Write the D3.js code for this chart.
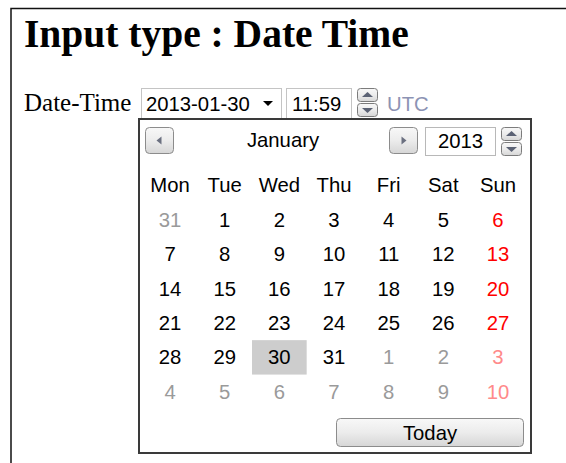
<!DOCTYPE html>
<html>
<head>
<meta charset="utf-8">
<script src="https://cdn.jsdelivr.net/npm/d3@7"></script>
<style>
  body { margin: 0; background: #fff; }
  svg { display: block; }
</style>
</head>
<body>
<div id="cover"></div>
<script>
// values
var titleText = "Input type : Date Time";
var labelText = "Date-Time";
var dateValue = "2013-01-30";
var timeValue = "11:59";
var zoneText = "UTC";
var monthName = "January";
var yearValue = "2013";
var weekdays = ["Mon", "Tue", "Wed", "Thu", "Fri", "Sat", "Sun"];
// six weeks of the grid, row by row
var dayNumbers = [
  [31, 1, 2, 3, 4, 5, 6],
  [7, 8, 9, 10, 11, 12, 13],
  [14, 15, 16, 17, 18, 19, 20],
  [21, 22, 23, 24, 25, 26, 27],
  [28, 29, 30, 31, 1, 2, 3],
  [4, 5, 6, 7, 8, 9, 10]
];
// 1 = day belongs to January, 0 = spill over from Dec / Feb
var inMonth = [
  [0, 1, 1, 1, 1, 1, 1],
  [1, 1, 1, 1, 1, 1, 1],
  [1, 1, 1, 1, 1, 1, 1],
  [1, 1, 1, 1, 1, 1, 1],
  [1, 1, 1, 1, 0, 0, 0],
  [0, 0, 0, 0, 0, 0, 0]
];
var selectedDay = 30;
var todayText = "Today";

var W = 566, H = 463;
var sans = "'Liberation Sans', Arial, sans-serif";
var serif = "'Liberation Serif', 'Times New Roman', serif";
var fs = 20.3;

var svg = d3.select("#cover").append("svg").attr("width", W).attr("height", H);

var defs = svg.append("defs");
var grad = defs.append("linearGradient").attr("id", "btn").attr("x1", 0).attr("y1", 0).attr("x2", 0).attr("y2", 1);
grad.append("stop").attr("offset", "0%").attr("stop-color", "#f8f8f8");
grad.append("stop").attr("offset", "50%").attr("stop-color", "#ececec");
grad.append("stop").attr("offset", "100%").attr("stop-color", "#d6d6d6");

// page frame
svg.append("rect").attr("x", 11).attr("y", 8.5).attr("width", 700).attr("height", 600)
  .attr("fill", "none").attr("stroke", "#111").attr("stroke-width", 1.5);

svg.append("text").attr("x", 24).attr("y", 47).text(titleText)
  .attr("font-family", serif).attr("font-weight", "bold").attr("font-size", 39.5).attr("fill", "#000");

svg.append("text").attr("x", 24).attr("y", 111).text(labelText)
  .attr("font-family", serif).attr("font-size", 25).attr("fill", "#000");

// date field
svg.append("rect").attr("x", 141.5).attr("y", 88.5).attr("width", 140).attr("height", 30)
  .attr("fill", "#fff").attr("stroke", "#c4c4c4");
svg.append("text").attr("x", 146).attr("y", 111).text(dateValue)
  .attr("font-family", sans).attr("font-size", fs).attr("fill", "#000");
svg.append("path").attr("d", "M263,101 L273,101 L268,106 Z").attr("fill", "#000");

// time field
svg.append("rect").attr("x", 286.5).attr("y", 88.5).attr("width", 65).attr("height", 30)
  .attr("fill", "#fff").attr("stroke", "#c4c4c4");
svg.append("text").attr("x", 292).attr("y", 111).text(timeValue)
  .attr("font-family", sans).attr("font-size", fs).attr("fill", "#000");

function spinner(x, y) {
  var g = svg.append("g").attr("transform", "translate(" + x + "," + y + ")");
  [0, 15].forEach(function (dy, i) {
    g.append("rect").attr("x", 0.5).attr("y", dy + 0.5).attr("width", 20).attr("height", 13).attr("rx", 3)
      .attr("fill", "url(#btn)").attr("stroke", "#7c7c7c");
    var tri = i === 0 ? "M5," + (dy + 9) + " L16," + (dy + 9) + " L10.5," + (dy + 4) + " Z"
                      : "M5," + (dy + 5) + " L16," + (dy + 5) + " L10.5," + (dy + 10) + " Z";
    g.append("path").attr("d", tri).attr("fill", "#5b6274");
  });
}
spinner(357, 88);

svg.append("text").attr("x", 387).attr("y", 111).text(zoneText)
  .attr("font-family", sans).attr("font-size", fs).attr("fill", "#8c93b4");

// calendar popup
svg.append("rect").attr("x", 139).attr("y", 119).attr("width", 392).attr("height", 334)
  .attr("fill", "#fff").attr("stroke", "#3a3a3a").attr("stroke-width", 2);

function navButton(x, y, dir) {
  svg.append("rect").attr("x", x + 0.5).attr("y", y + 0.5).attr("width", 28).attr("height", 26).attr("rx", 4)
    .attr("fill", "url(#btn)").attr("stroke", "#8c8c8c");
  var cx = x + 14.5, cy = y + 13.5;
  var d = dir < 0 ? "M" + (cx - 3) + "," + cy + " L" + (cx + 2) + "," + (cy - 4) + " L" + (cx + 2) + "," + (cy + 4) + " Z"
                  : "M" + (cx + 3) + "," + cy + " L" + (cx - 2) + "," + (cy - 4) + " L" + (cx - 2) + "," + (cy + 4) + " Z";
  svg.append("path").attr("d", d).attr("fill", "#6b7080");
}
navButton(145, 127, -1);
navButton(389, 127, 1);

svg.append("text").attr("x", 283).attr("y", 147).attr("text-anchor", "middle").text(monthName)
  .attr("font-family", sans).attr("font-size", fs).attr("fill", "#000");

svg.append("rect").attr("x", 425.5).attr("y", 127.5).attr("width", 70).attr("height", 28)
  .attr("fill", "#fff").attr("stroke", "#b8b8b8");
svg.append("text").attr("x", 460.5).attr("y", 148).attr("text-anchor", "middle").text(yearValue)
  .attr("font-family", sans).attr("font-size", fs).attr("fill", "#000");
spinner(501, 127);

// grid scales
var x = d3.scaleBand().domain(weekdays).range([142.7, 525.3]);
var y = d3.scaleBand().domain(d3.range(7)).range([168, 409]);

svg.append("g").selectAll("text").data(weekdays).join("text")
  .attr("x", function (d) { return x(d) + x.bandwidth() / 2; })
  .attr("y", y(0) + y.bandwidth() / 2)
  .attr("dy", "0.35em")
  .attr("text-anchor", "middle")
  .attr("font-family", sans).attr("font-size", fs).attr("fill", "#000")
  .text(function (d) { return d; });

var cells = [];
dayNumbers.forEach(function (row, r) {
  row.forEach(function (n, c) {
    cells.push({ n: n, row: r + 1, col: weekdays[c], sunday: c === 6, cur: inMonth[r][c] === 1 });
  });
});

svg.append("g").selectAll("rect").data(cells.filter(function (d) { return d.cur && d.n === selectedDay; })).join("rect")
  .attr("x", function (d) { return x(d.col); })
  .attr("y", function (d) { return y(d.row); })
  .attr("width", x.bandwidth())
  .attr("height", y.bandwidth())
  .attr("fill", "#cdcdcd");

svg.append("g").selectAll("text").data(cells).join("text")
  .attr("x", function (d) { return x(d.col) + x.bandwidth() / 2; })
  .attr("y", function (d) { return y(d.row) + y.bandwidth() / 2; })
  .attr("dy", "0.35em")
  .attr("text-anchor", "middle")
  .attr("font-family", sans).attr("font-size", fs)
  .attr("fill", function (d) {
    if (d.sunday) return d.cur ? "#ff0000" : "#ff8a8a";
    return d.cur ? "#000" : "#9a9a9a";
  })
  .text(function (d) { return d.n; });

// today button
svg.append("rect").attr("x", 336.5).attr("y", 418.5).attr("width", 187).attr("height", 28).attr("rx", 4)
  .attr("fill", "url(#btn)").attr("stroke", "#8c8c8c");
svg.append("text").attr("x", 430).attr("y", 440).attr("text-anchor", "middle").text(todayText)
  .attr("font-family", sans).attr("font-size", fs).attr("fill", "#000");
</script>
</body>
</html>
